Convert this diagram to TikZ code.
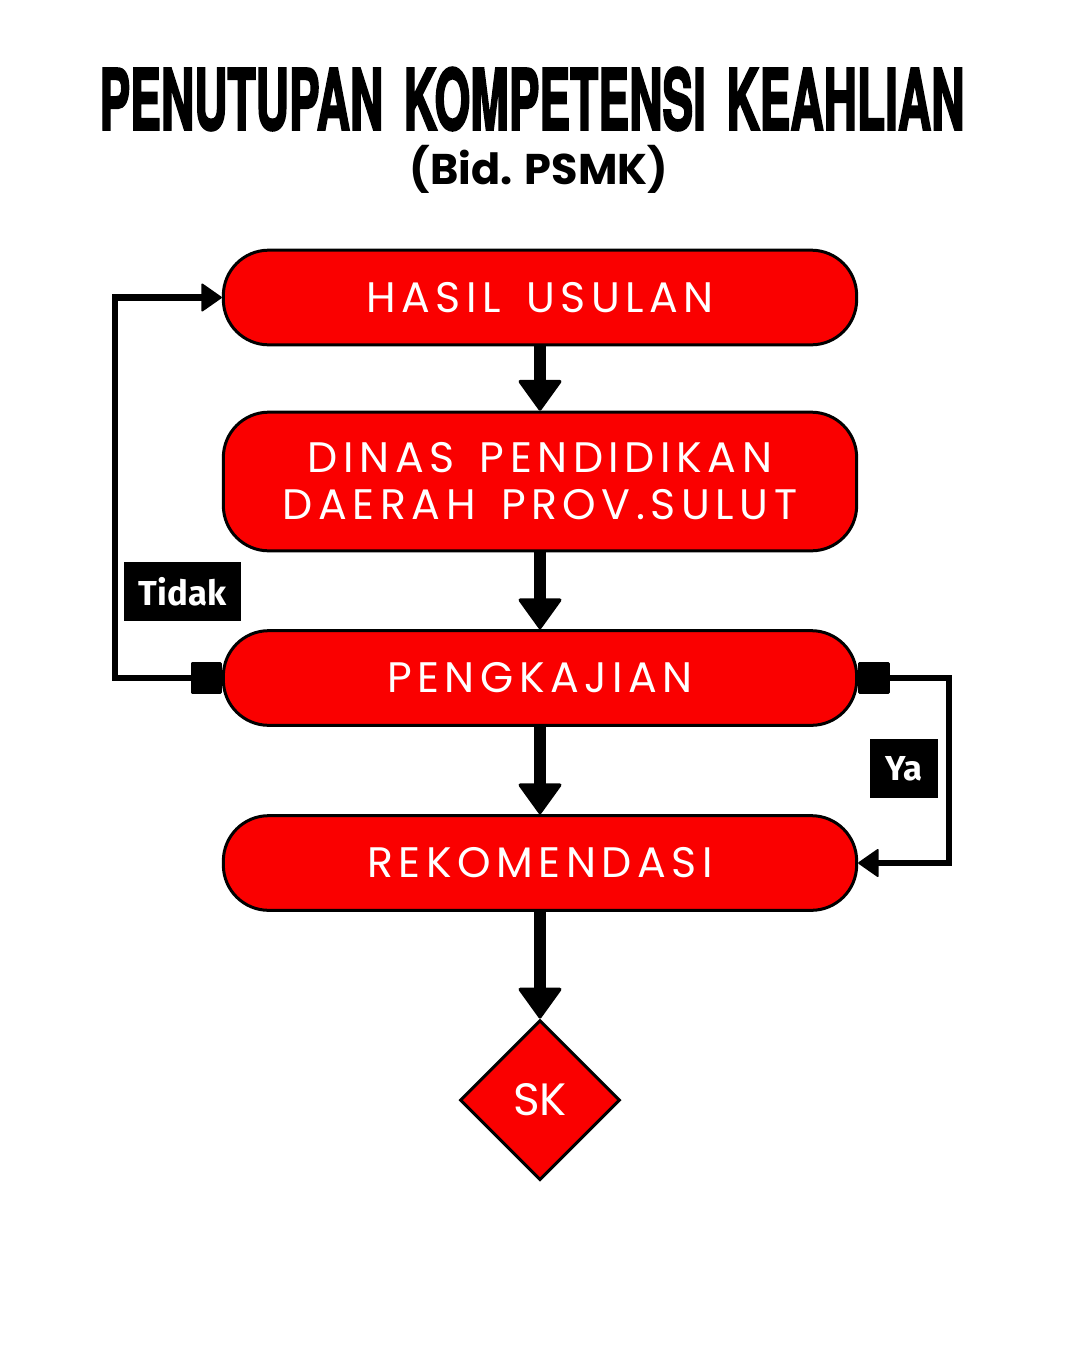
\documentclass[tikz,border=0pt]{standalone}
\usepackage{fontspec}
\usetikzlibrary{shapes.geometric,arrows.meta}
\setmainfont{Poppins}
\newfontfamily\boxfont[LetterSpace=13,WordSpace=1.5]{Poppins}
\newfontfamily\titlefont[FakeBold=3,WordSpace=1.6]{TeX Gyre Heros}
\newfontfamily\labelfont{Fira Sans}
\definecolor{flowred}{RGB}{250,0,0}

\tikzset{every picture/.style={line width=0.75pt}}
\tikzset{
  stepbox/.style={draw=black, line width=2.25pt, fill=flowred, rounded corners=34pt,
    minimum width=475pt, minimum height=71pt, inner sep=0pt, text=white, align=center,
    font=\boxfont\fontsize{32}{35.25}\selectfont},
  endbox/.style={diamond, aspect=1, draw=black, line width=2.25pt, fill=flowred,
    minimum width=120pt, minimum height=120pt, inner sep=0pt, text=white,
    font=\fontsize{34}{36}\selectfont},
  answerbox/.style={fill=black, text=white, inner sep=0pt, minimum height=44.25pt,
    font=\labelfont\bfseries\fontsize{26}{28}\selectfont},
  flowarrow/.style={line width=9pt, -{Triangle[length=24pt,width=34pt,round,line width=2.5pt]}},
  looparrow/.style={line width=4.9pt,
    {Square[length=23.5pt,width=23.5pt,round,line width=2pt]}-{Triangle[length=16pt,width=22pt,round,line width=1.5pt]}}
}

\begin{document}
\begin{tikzpicture}[x=0.75pt,y=0.75pt,yscale=-1,xscale=1]
	\useasboundingbox (0,0) rectangle (1080,1350);

	% Title
	\node [inner sep=0pt] (title) at (532,99) {\resizebox{648.75pt}{46.5pt}{\titlefont\bfseries PENUTUPAN KOMPETENSI KEAHLIAN}};
	\node [inner sep=0pt] (subtitle) at (539,169) {\resizebox{193.5pt}{!}{\bfseries (Bid. PSMK)}};

	%Shape: Rounded Rect
	\node [stepbox] (hasil) at (540,297.5) {HASIL USULAN};
	\node [stepbox, minimum height=104pt] (dinas) at (540,481.5) {DINAS PENDIDIKAN\\DAERAH PROV.SULUT};
	\node [stepbox] (pengkajian) at (540,678) {PENGKAJIAN};
	\node [stepbox] (rekomendasi) at (540,863) {REKOMENDASI};
	%Shape: Diamond
	\node [endbox] (sk) at (540,1100) {SK};

	%Straight Lines
	\draw [flowarrow] (hasil.south) -- (dinas.north);
	\draw [flowarrow] (dinas.south) -- (pengkajian.north);
	\draw [flowarrow] (pengkajian.south) -- (rekomendasi.north);
	\draw [flowarrow] (rekomendasi.south) -- (sk.north);

	% Loops
	\coordinate (tidakturn) at (115,678);
	\coordinate (yaturn) at (949,678);
	\draw [looparrow] (pengkajian.west) -- (tidakturn) |- (hasil.west);
	\draw [looparrow] (pengkajian.east) -- (yaturn) |- (rekomendasi.east);

	% Text Node
	\node [answerbox, minimum width=87.75pt] (tidak) at (182.5,591.5) {Tidak};
	% Text Node
	\node [answerbox, minimum width=51pt] (ya) at (904,768.5) {Ya};

\end{tikzpicture}
\end{document}
